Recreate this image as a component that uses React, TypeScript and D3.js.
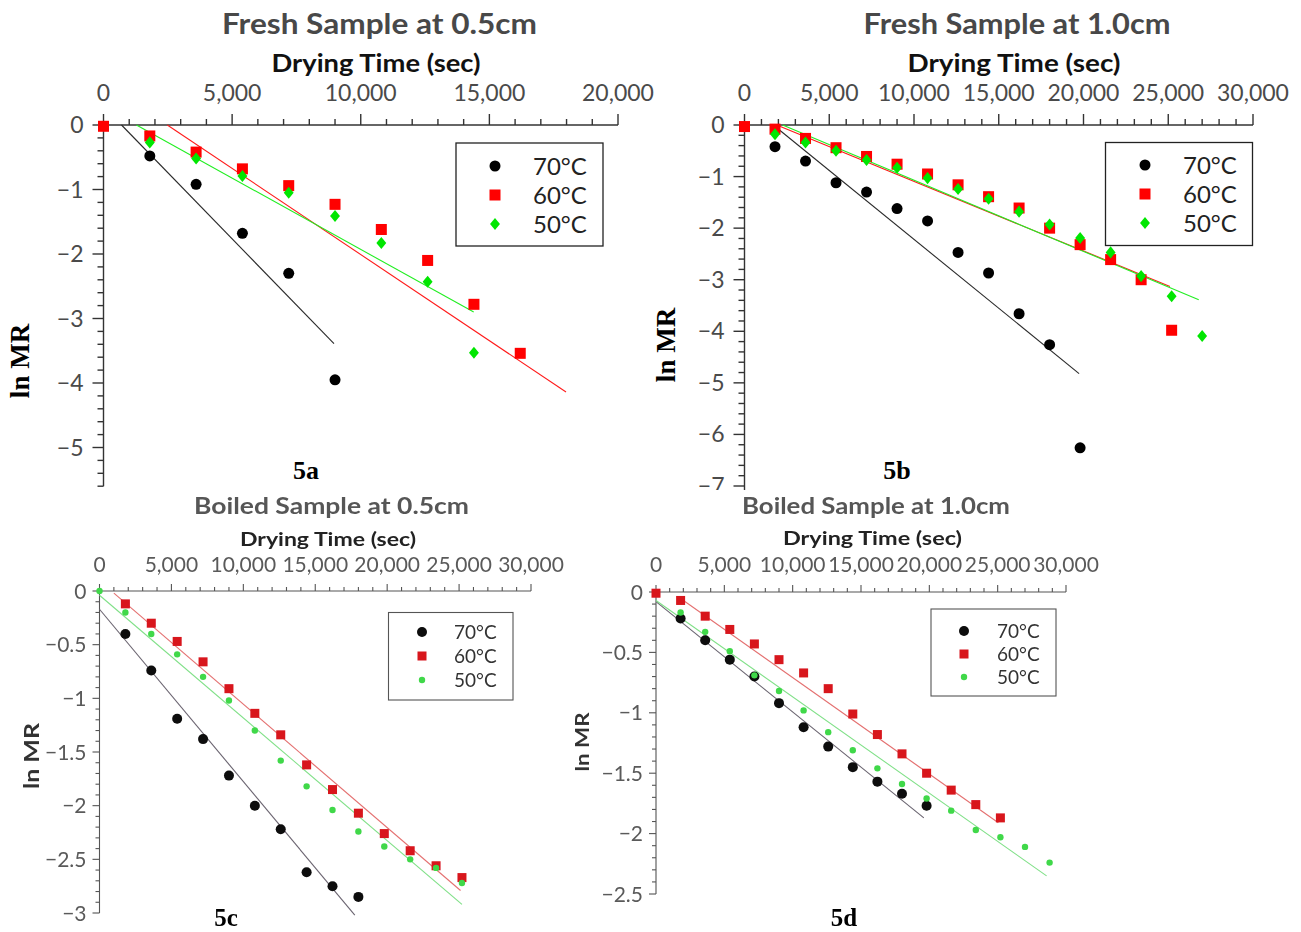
import React from "react";
import * as d3 from "d3";

type Pt = [number, number];

const SANS = "Lato, 'Open Sans', sans-serif";
const SERIF = "'Liberation Serif', 'Times New Roman', serif";

const temperatureLabels = ["70°C", "60°C", "50°C"];
const timeAxisTitle = "Drying Time (sec)";
const valueAxisTitle = "ln MR";

// ---------- 5a : Fresh sample at 0.5 cm ----------
const fresh05Time70 = [1800, 3600, 5400, 7200, 9000];
const fresh05Ln70 = [-0.48, -0.92, -1.68, -2.3, -3.95];
const fresh05Time60 = [0, 1800, 3600, 5400, 7200, 9000, 10800, 12600, 14400, 16200];
const fresh05Ln60 = [-0.02, -0.17, -0.42, -0.68, -0.94, -1.23, -1.62, -2.1, -2.78, -3.54];
const fresh05Time50 = [1800, 3600, 5400, 7200, 9000, 10800, 12600, 14400];
const fresh05Ln50 = [-0.27, -0.52, -0.79, -1.05, -1.41, -1.83, -2.43, -3.53];
const fresh05Fit70: Pt[] = [[700, 0], [8960, -3.39]];
const fresh05Fit60: Pt[] = [[2480, 0], [17980, -4.14]];
const fresh05Fit50: Pt[] = [[1280, 0], [14390, -2.9]];

// ---------- 5b : Fresh sample at 1.0 cm ----------
const fresh10Time70 = [1800, 3600, 5400, 7200, 9000, 10800, 12600, 14400, 16200, 18000, 19800];
const fresh10Ln70 = [-0.42, -0.7, -1.12, -1.3, -1.62, -1.86, -2.47, -2.87, -3.66, -4.26, -6.26];
const fresh10Time60 = [0, 1800, 3600, 5400, 7200, 9000, 10800, 12600, 14400, 16200, 18000, 19800, 21600, 23400, 25200];
const fresh10Ln60 = [-0.03, -0.08, -0.26, -0.44, -0.61, -0.76, -0.95, -1.16, -1.39, -1.61, -2.0, -2.32, -2.61, -3.0, -3.98];
const fresh10Time50 = [1800, 3600, 5400, 7200, 9000, 10800, 12600, 14400, 16200, 18000, 19800, 21600, 23400, 25200, 27000];
const fresh10Ln50 = [-0.18, -0.34, -0.5, -0.68, -0.83, -1.03, -1.24, -1.43, -1.68, -1.93, -2.19, -2.47, -2.93, -3.32, -4.09];
const fresh10Fit70: Pt[] = [[1700, 0], [19740, -4.82]];
const fresh10Fit60: Pt[] = [[1900, 0], [25100, -3.13]];
const fresh10Fit50: Pt[] = [[2250, 0], [26800, -3.39]];

// ---------- 5c : Boiled sample at 0.5 cm ----------
const boiled05Time70 = [1800, 3600, 5400, 7200, 9000, 10800, 12600, 14400, 16200, 18000];
const boiled05Ln70 = [-0.4, -0.74, -1.19, -1.38, -1.72, -2.0, -2.22, -2.62, -2.75, -2.85];
const boiled05Time60 = [1800, 3600, 5400, 7200, 9000, 10800, 12600, 14400, 16200, 18000, 19800, 21600, 23400, 25200];
const boiled05Ln60 = [-0.12, -0.3, -0.47, -0.66, -0.91, -1.14, -1.34, -1.62, -1.85, -2.07, -2.26, -2.42, -2.56, -2.67];
const boiled05Time50 = [0, 1800, 3600, 5400, 7200, 9000, 10800, 12600, 14400, 16200, 18000, 19800, 21600, 23400, 25200];
const boiled05Ln50 = [0, -0.2, -0.4, -0.59, -0.8, -1.02, -1.3, -1.58, -1.82, -2.04, -2.24, -2.38, -2.5, -2.58, -2.72];
const boiled05Fit70: Pt[] = [[0, -0.17], [17750, -3.02]];
const boiled05Fit60: Pt[] = [[1000, -0.02], [25100, -2.79]];
const boiled05Fit50: Pt[] = [[0, -0.04], [25200, -2.92]];

// ---------- 5d : Boiled sample at 1.0 cm ----------
const boiled10Time70 = [1800, 3600, 5400, 7200, 9000, 10800, 12600, 14400, 16200, 18000, 19800];
const boiled10Ln70 = [-0.22, -0.4, -0.56, -0.7, -0.92, -1.12, -1.28, -1.45, -1.57, -1.67, -1.77];
const boiled10Time60 = [0, 1800, 3600, 5400, 7200, 9000, 10800, 12600, 14400, 16200, 18000, 19800, 21600, 23400, 25200];
const boiled10Ln60 = [-0.01, -0.07, -0.2, -0.31, -0.43, -0.56, -0.67, -0.8, -1.01, -1.18, -1.34, -1.5, -1.64, -1.76, -1.87];
const boiled10Time50 = [1800, 3600, 5400, 7200, 9000, 10800, 12600, 14400, 16200, 18000, 19800, 21600, 23400, 25200, 27000, 28800];
const boiled10Ln50 = [-0.17, -0.33, -0.49, -0.69, -0.82, -0.98, -1.16, -1.31, -1.46, -1.59, -1.71, -1.81, -1.97, -2.03, -2.11, -2.24];
const boiled10Fit70: Pt[] = [[0, -0.08], [19600, -1.87]];
const boiled10Fit60: Pt[] = [[1750, -0.05], [25050, -1.91]];
const boiled10Fit50: Pt[] = [[0, -0.07], [28580, -2.35]];

interface SeriesDef { t: number[]; v: number[]; fit: Pt[] }
interface MarkerStyle { kind: string; color: string; size: number; line: string }

const topMarkers: MarkerStyle[] = [
  { kind: "circle", color: "#000000", size: 5.5, line: "#2a2a2a" },
  { kind: "square", color: "#ff0000", size: 11, line: "#ff1a1a" },
  { kind: "diamond", color: "#00e600", size: 5.5, line: "#22ee22" },
];
const bottomMarkers: MarkerStyle[] = [
  { kind: "circle", color: "#0a0a0a", size: 5, line: "#6a6470" },
  { kind: "square", color: "#d8141e", size: 9, line: "#e47070" },
  { kind: "dot", color: "#3fd84a", size: 3.2, line: "#80e088" },
];

function Marker({ kind, cx, cy, st }: { kind: string; cx: number; cy: number; st: MarkerStyle }) {
  if (kind === "circle" || kind === "dot") return <circle cx={cx} cy={cy} r={st.size} fill={st.color} />;
  if (kind === "square")
    return <rect x={cx - st.size / 2} y={cy - st.size / 2} width={st.size} height={st.size} fill={st.color} />;
  const w = st.size * 0.9, h = st.size * 1.1;
  return <path d={`M${cx},${cy - h}L${cx + w},${cy}L${cx},${cy + h}L${cx - w},${cy}Z`} fill={st.color} />;
}

function ticksDown(end: number, step: number): number[] {
  const n = Math.floor(-end / step + 1e-6);
  return d3.range(0, n + 1).map((i) => -i * step);
}

function Panel({ L, series, markers }: { L: any; series: SeriesDef[]; markers: MarkerStyle[] }) {
  const x = d3.scaleLinear().domain([0, L.xMax]).range([L.x0, L.x1]);
  const y = d3.scaleLinear().domain([0, L.yRef]).range([L.y0, L.yRefPx]);
  const line = d3.line<Pt>().x((d) => x(d[0])).y((d) => y(d[1]));
  const xMaj = d3.range(0, L.xMax + 1, L.xMajor);
  const xMin = d3.range(0, L.xMax + 1, L.xMinor).filter((v) => v % L.xMajor !== 0);
  const yMaj = ticksDown(L.yEnd, L.yMajor);
  const yMin = ticksDown(L.yEnd, L.yMinor).filter((v) => Math.abs(v / L.yMajor - Math.round(v / L.yMajor)) > 1e-6);
  const fmt = d3.format(",");
  const ax = L.axisColor, aw = L.axisWidth;
  return (
    <g filter={L.blur ? "url(#soft)" : undefined}>
      <text x={L.titleX} y={L.titleY} textAnchor="middle" fontFamily={SANS} fontWeight="bold" fontSize={L.titleSize} fill={L.titleColor}
        textLength={L.titleLen} lengthAdjust="spacingAndGlyphs">{L.title}</text>
      <text x={L.xLabelX} y={L.xLabelY} textAnchor="middle" fontFamily={SANS} fontWeight="bold" fontSize={L.xLabelSize} fill={L.xLabelColor}
        textLength={L.xLabelLen} lengthAdjust="spacingAndGlyphs">{timeAxisTitle}</text>
      {xMaj.map((v) => (
        <text key={"xl" + v} x={x(v)} y={L.tickLabelY} textAnchor="middle" fontFamily={SANS} fontSize={L.tickSize} fill={L.tickColor}>{fmt(v)}</text>
      ))}
      {yMaj.filter((v) => v >= L.yLabelEnd - 1e-9).map((v) => (
        <text key={"yl" + v} x={L.x0 - L.yLabelGap} y={y(v) + L.yLabelDy} textAnchor="end" fontFamily={SANS} fontSize={L.tickSize} fill={L.tickColor}>{fmt(v)}</text>
      ))}
      <line x1={L.x0} x2={L.x1} y1={L.y0} y2={L.y0} stroke={ax} strokeWidth={aw} />
      <line x1={L.x0} x2={L.x0} y1={L.y0} y2={y(L.yEnd)} stroke={ax} strokeWidth={aw} />
      {xMaj.map((v) => <line key={"xM" + v} x1={x(v)} x2={x(v)} y1={L.y0} y2={L.y0 - L.majorLen} stroke={ax} strokeWidth={aw} />)}
      {xMin.map((v) => <line key={"xm" + v} x1={x(v)} x2={x(v)} y1={L.y0} y2={L.y0 - L.minorLen} stroke={ax} strokeWidth={aw} />)}
      {yMaj.map((v) => <line key={"yM" + v} x1={L.x0} x2={L.x0 - L.majorLen} y1={y(v)} y2={y(v)} stroke={ax} strokeWidth={aw} />)}
      {yMin.map((v) => <line key={"ym" + v} x1={L.x0} x2={L.x0 - L.minorLen} y1={y(v)} y2={y(v)} stroke={ax} strokeWidth={aw} />)}
      {series.map((s, i) => (
        <path key={"fit" + i} d={line(s.fit) || ""} fill="none" stroke={markers[i].line} strokeWidth={L.fitWidth} />
      ))}
      {series.map((s, i) => (
        <g key={"pts" + i}>
          {s.t.map((t, j) => <Marker key={j} kind={markers[i].kind} cx={x(t)} cy={y(s.v[j])} st={markers[i]} />)}
        </g>
      ))}
      <rect x={L.legend.x} y={L.legend.y} width={L.legend.w} height={L.legend.h} fill="#fff" stroke={L.legend.stroke} strokeWidth={L.legend.sw} />
      {temperatureLabels.map((lab, i) => (
        <g key={"lg" + i}>
          <Marker kind={markers[i].kind} cx={L.legend.mx} cy={L.legend.rows[i]} st={markers[i]} />
          <text x={L.legend.tx} y={L.legend.rows[i] + L.legend.dy} fontFamily={SANS} fontSize={L.legend.size} fill={L.legend.color}>{lab}</text>
        </g>
      ))}
      <text transform={`translate(${L.yTitleX},${L.yTitleY}) rotate(-90)`} textAnchor="middle" dominantBaseline="central" fontFamily={L.yTitleFont} fontWeight="bold" fontSize={L.yTitleSize} fill={L.yTitleColor}
        textLength={L.yTitleLen} lengthAdjust="spacingAndGlyphs">{valueAxisTitle}</text>
      <text x={L.tagX} y={L.tagY} textAnchor="middle" fontFamily={SERIF} fontWeight="bold" fontSize={L.tagSize} fill="#000">{L.tag}</text>
    </g>
  );
}

const topCommon = {
  xMajor: 5000, xMinor: 1000, yMajor: 1, yMinor: 0.2,
  tickSize: 23, tickColor: "#4a4a4a", tickLabelY: 101, yLabelGap: 20, yLabelDy: 8,
  majorLen: 11, minorLen: 6, axisWidth: 1.4, axisColor: "#333",
  titleY: 34, titleSize: 29, titleColor: "#484848",
  xLabelY: 72, xLabelSize: 24, xLabelColor: "#111",
  yTitleFont: SERIF, yTitleSize: 27, yTitleColor: "#000", yTitleLen: undefined,
  tagY: 479, tagSize: 26, fitWidth: 1.1, blur: false,
};
const bottomCommon = {
  xMajor: 5000, xMinor: 1000, yMajor: 0.5, yMinor: 0.1,
  tickSize: 21, tickColor: "#5a5a5a", tickLabelY: 572, yLabelGap: 13, yLabelDy: 7.5,
  majorLen: 7, minorLen: 4, axisWidth: 1.1, axisColor: "#555",
  titleY: 514, titleSize: 23, titleColor: "#575757",
  xLabelY: 546, xLabelSize: 19, xLabelColor: "#222",
  yTitleFont: SANS, yTitleSize: 21, yTitleColor: "#333",
  tagY: 926, tagSize: 25, fitWidth: 1.1, blur: true,
};

const layoutA = {
  ...topCommon, x0: 103.5, x1: 618, xMax: 20000, y0: 125, yRef: -5, yRefPx: 447.5, yEnd: -5.6, yLabelEnd: -5,
  title: "Fresh Sample at 0.5cm", titleX: 379.5, titleLen: 315, xLabelX: 376, xLabelLen: 209,
  yTitleX: 20, yTitleY: 361, tag: "5a", tagX: 306,
  legend: { x: 456, y: 143, w: 147, h: 103, rows: [166, 195, 224], mx: 495, tx: 533, dy: 8.5, size: 24, color: "#222", stroke: "#222", sw: 1.3 },
};
const layoutB = {
  ...topCommon, x0: 744.5, x1: 1253, xMax: 30000, y0: 125, yRef: -7, yRefPx: 486, yEnd: -7.3, yLabelEnd: -7,
  title: "Fresh Sample at 1.0cm", titleX: 1017, titleLen: 307, xLabelX: 1014, xLabelLen: 213,
  yTitleX: 666, yTitleY: 345, tag: "5b", tagX: 897,
  legend: { x: 1105.5, y: 142.5, w: 147, h: 103, rows: [165, 194, 223], mx: 1145, tx: 1183, dy: 8.5, size: 24, color: "#222", stroke: "#222", sw: 1.3 },
};
const layoutC = {
  ...bottomCommon, x0: 99.5, x1: 531, xMax: 30000, y0: 591, yRef: -3, yRefPx: 913, yEnd: -3, yLabelEnd: -3,
  title: "Boiled Sample at 0.5cm", titleX: 331.5, titleLen: 275, xLabelX: 328, xLabelLen: 176,
  yTitleX: 30, yTitleY: 756, yTitleLen: 66, tag: "5c", tagX: 226,
  legend: { x: 388.5, y: 612.5, w: 124.5, h: 87.5, rows: [632, 656, 680], mx: 422, tx: 454, dy: 6.5, size: 19, color: "#333", stroke: "#555", sw: 1.1 },
};
const layoutD = {
  ...bottomCommon, x0: 656, x1: 1066, xMax: 30000, y0: 592, yRef: -2.5, yRefPx: 894, yEnd: -2.5, yLabelEnd: -2.5,
  title: "Boiled Sample at 1.0cm", titleX: 876, titleLen: 268, xLabelX: 872.5, xLabelLen: 179, xLabelY: 545,
  yTitleX: 581, yTitleY: 742, yTitleSize: 19, yTitleLen: 59, tag: "5d", tagX: 844,
  legend: { x: 931, y: 609, w: 125, h: 87, rows: [631, 654, 677], mx: 964, tx: 997, dy: 6.5, size: 19, color: "#333", stroke: "#555", sw: 1.1 },
};

const seriesA: SeriesDef[] = [
  { t: fresh05Time70, v: fresh05Ln70, fit: fresh05Fit70 },
  { t: fresh05Time60, v: fresh05Ln60, fit: fresh05Fit60 },
  { t: fresh05Time50, v: fresh05Ln50, fit: fresh05Fit50 },
];
const seriesB: SeriesDef[] = [
  { t: fresh10Time70, v: fresh10Ln70, fit: fresh10Fit70 },
  { t: fresh10Time60, v: fresh10Ln60, fit: fresh10Fit60 },
  { t: fresh10Time50, v: fresh10Ln50, fit: fresh10Fit50 },
];
const seriesC: SeriesDef[] = [
  { t: boiled05Time70, v: boiled05Ln70, fit: boiled05Fit70 },
  { t: boiled05Time60, v: boiled05Ln60, fit: boiled05Fit60 },
  { t: boiled05Time50, v: boiled05Ln50, fit: boiled05Fit50 },
];
const seriesD: SeriesDef[] = [
  { t: boiled10Time70, v: boiled10Ln70, fit: boiled10Fit70 },
  { t: boiled10Time60, v: boiled10Ln60, fit: boiled10Fit60 },
  { t: boiled10Time50, v: boiled10Ln50, fit: boiled10Fit50 },
];

export default function App() {
  return (
    <svg width={1301} height={932} viewBox="0 0 1301 932" style={{ position: "absolute", left: 0, top: 0, background: "#fff" }}>
      <defs>
        <filter id="soft" x="-5%" y="-5%" width="110%" height="110%">
          <feGaussianBlur stdDeviation="0.45" />
        </filter>
      </defs>
      <rect x={0} y={0} width={1301} height={932} fill="#fff" />
      <Panel L={layoutA} series={seriesA} markers={topMarkers} />
      <Panel L={layoutB} series={seriesB} markers={topMarkers} />
      <rect x={0} y={490} width={1301} height={442} fill="#fff" />
      <Panel L={layoutC} series={seriesC} markers={bottomMarkers} />
      <Panel L={layoutD} series={seriesD} markers={bottomMarkers} />
    </svg>
  );
}
